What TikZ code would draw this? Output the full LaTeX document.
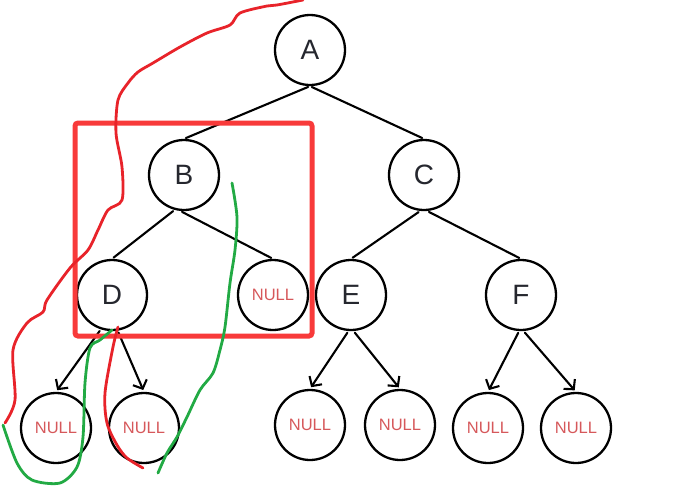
\documentclass[tikz,border=0pt]{standalone}
\usepackage{fontspec}
\setmainfont{Liberation Sans}
\usepackage{tikz}
\usetikzlibrary{arrows.meta}

\definecolor{boxred}{HTML}{F83A3A}
\definecolor{penred}{HTML}{E8232A}
\definecolor{pengreen}{HTML}{22AA44}
\definecolor{nullred}{HTML}{D6585B}
\definecolor{ink}{HTML}{25272E}

\begin{document}
\begin{tikzpicture}[x=1pt, y=-1pt,
    treenode/.style={draw, line width=2.3pt, circle, minimum size=70pt, inner sep=0pt,
        text=ink, font=\fontsize{28}{28}\selectfont},
    nullnode/.style={treenode, text=nullred, font=\fontsize{16.5}{17}\selectfont},
    branch/.style={line width=2.1pt, line cap=round, shorten <=2pt, shorten >=2pt},
    pointer/.style={branch, -{Straight Barb[length=7pt, width=15pt, line width=2.1pt]}},
    pen/.style={line width=2.8pt, line cap=round, line join=round}]
    \useasboundingbox (0,0) rectangle (697,501);
    \node[treenode] (A) at (310,50) {A};
    \node[treenode] (B) at (184,175) {B};
    \node[treenode] (C) at (424,175) {C};
    \node[treenode] (D) at (112,295) {D};
    \node[nullnode] (Bnull) at (273,295) {NULL};
    \node[treenode] (E) at (351,295) {E};
    \node[treenode] (F) at (521,295) {F};
    \node[nullnode] (Dl) at (56,428) {NULL};
    \node[nullnode] (Dr) at (144,428) {NULL};
    \node[nullnode] (El) at (310,425) {NULL};
    \node[nullnode] (Er) at (400,425) {NULL};
    \node[nullnode] (Fl) at (488,428) {NULL};
    \node[nullnode] (Fr) at (576,428) {NULL};
    \draw[branch] (A.south) -- (B.north);
    \draw[branch] (A.south) -- (C.north);
    \draw[branch] (B.-105) -- (D.north);
    \draw[branch] (B.-96) -- (Bnull.north);
    \draw[branch] (C.-96) -- (E.north);
    \draw[branch] (C.-85) -- (F.north);
    \draw[pointer] (D.-108) -- (Dl.north);
    \draw[pointer] (D.-81) -- (Dr.north);
    \draw[pointer] (E.-94) -- (El.north);
    \draw[pointer] (E.-86) -- (Er.north);
    \draw[pointer] (F.-93) -- (Fl.north);
    \draw[pointer] (F.-86) -- (Fr.north);
    % subtree box and pen strokes
    \draw[boxred, line width=5pt, rounded corners=3pt] (75,123) rectangle (312,336);
    \draw[pen, penred] plot[smooth, tension=0.5] coordinates {(303,0) (277,5) (267,6) (240,13) (230,25) (207,33) (180,47) (153,63) (138,72) (128,83) (118,100) (116,133) (122,167) (122,200) (108,210) (98,230) (88,250) (70,268) (47,300) (43,312) (27,323) (13,350) (15,400) (5,423)};
    \draw[pen, penred] plot[smooth, tension=0.5] coordinates {(118,327) (113,347) (105,393) (107,423) (117,445) (127,458) (143,468)};
    \draw[pen, pengreen] plot[smooth, tension=0.5] coordinates {(112,330) (100,340) (90,348) (85,383) (83,437) (77,467) (60,483) (32,480) (17,463) (3,425)};
    \draw[pen, pengreen] plot[smooth, tension=0.5] coordinates {(232,183) (237,217) (235,250) (230,283) (225,327) (220,350) (213,373) (200,390) (187,417) (177,437) (167,453) (158,473)};
\end{tikzpicture}
\end{document}
